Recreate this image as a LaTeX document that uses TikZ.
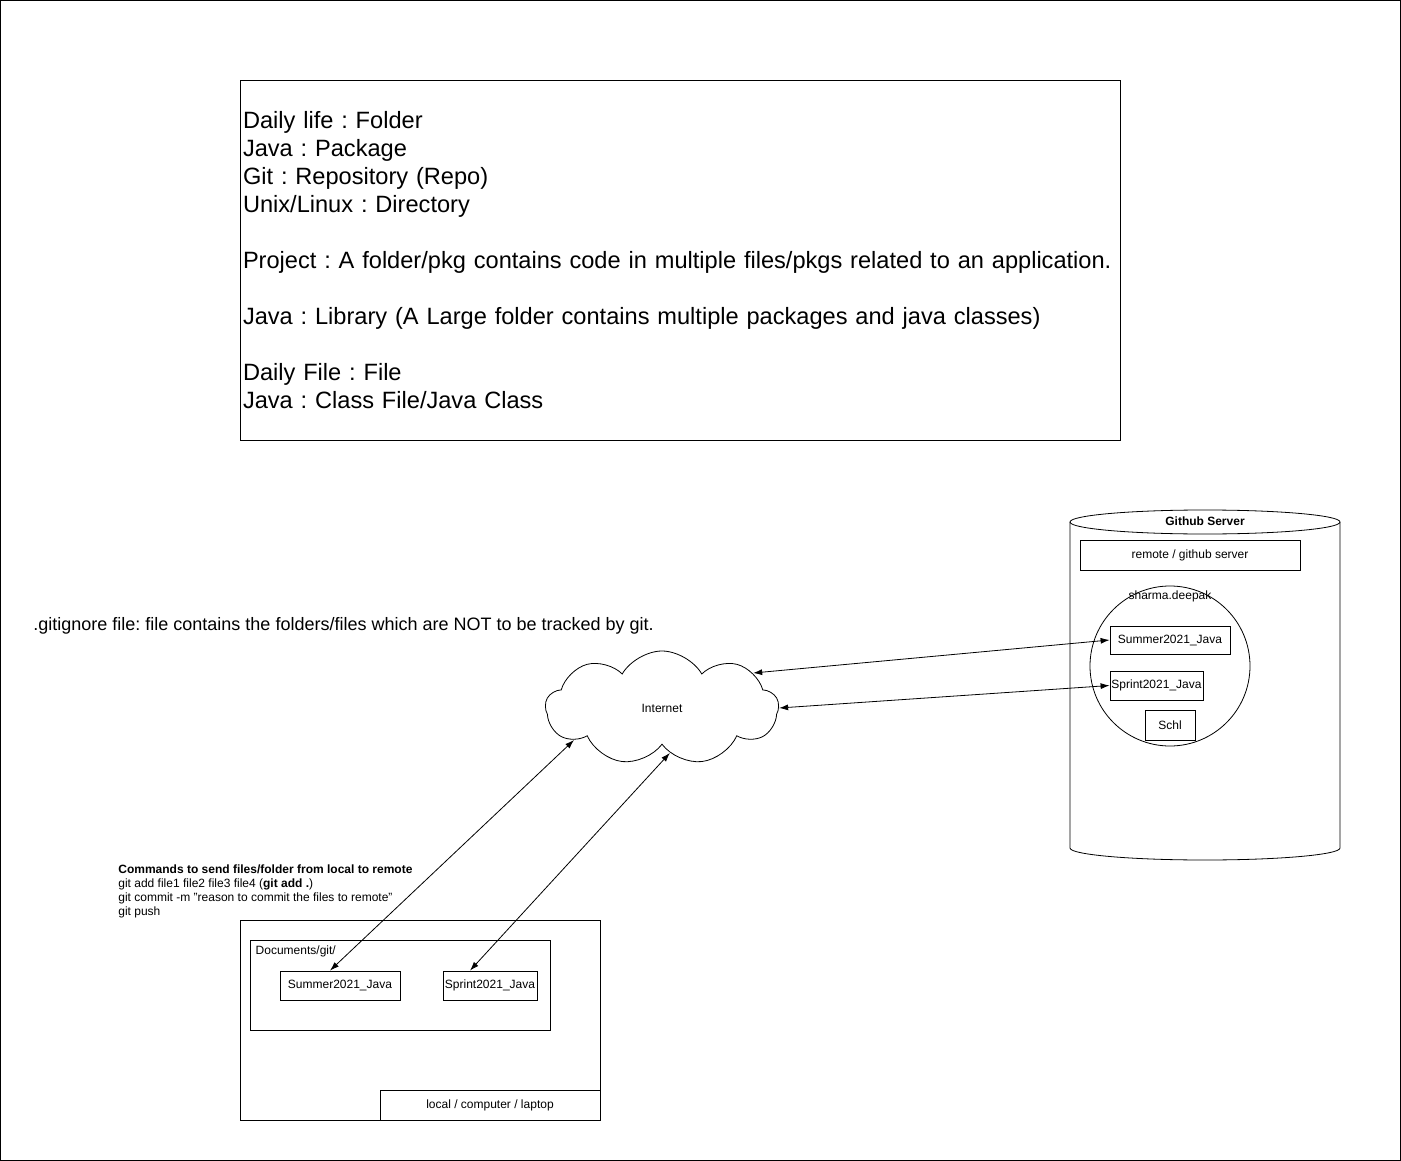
\documentclass[tikz,border=0pt]{standalone}
\usepackage{fontspec}
\setmainfont{Liberation Sans}
\usetikzlibrary{shapes.symbols,arrows.meta}
\tikzset{box/.style = {shape=rectangle,draw,inner sep=1pt}}
\tikzset{link/.style = {{Latex[length=9pt,width=6pt]}-{Latex[length=9pt,width=6pt]}}}
\frenchspacing
\hyphenpenalty=10000

\begin{document}
\begin{tikzpicture}[x=1pt,y=-1pt,line width=0.8pt,font=\fontsize{12}{14}\selectfont]
  \useasboundingbox (0,0) rectangle (1401,1161);
  \draw (0.5,0.5) rectangle (1400.5,1160.5);

  % notes
  \node[draw, text width=874, align=left, minimum height=360, inner xsep=3pt,
        font=\fontsize{23.6}{28}\selectfont] (notes) at (680,260) {Daily life : Folder\\
    Java : Package\\
    Git : Repository (Repo)\\
    Unix/Linux : Directory\\[28pt]
    Project : A folder/pkg contains code in multiple files/pkgs related to an application.\\[28pt]
    Java : Library (A Large folder contains multiple packages and java classes)\\[28pt]
    Daily File : File\\
    Java : Class File/Java Class};

  \node[anchor=west, inner sep=0, font=\fontsize{18}{21}\selectfont] (ignore) at (33,626)
    {.gitignore file: file contains the folders/files which are NOT to be tracked by git.};

  % github server
  \draw (1070,522) -- (1070,848) arc[start angle=180, end angle=0, x radius=135, y radius=12] -- (1340,522);
  \draw (1205,522) ellipse [x radius=135, y radius=12];
  \node[font=\fontsize{12}{14}\selectfont\bfseries] (server) at (1205,521) {Github Server};
  \node[box, minimum width=220, minimum height=30] (remote) at (1190,555) {remote / github server};
  \node[circle, draw, minimum size=160] (account) at (1170,666) {};
  \node (user) at (1170,596) {sharma.deepak};
  \node[box, minimum width=120, minimum height=28] (rsum) at (1170,640) {Summer2021\_Java};
  \node[box, minimum width=93, minimum height=29] (rspr) at (1156.5,685.5) {Sprint2021\_Java};
  \node[box, minimum width=50, minimum height=30] (schl) at (1170,725) {Schl};

  % internet
  \node[cloud, draw, cloud puffs=9, cloud puff arc=120, aspect=2,
        minimum width=233, minimum height=114] (inet) at (662,708) {Internet};

  % local
  \node[anchor=north west, align=left, inner sep=0] (cmds) at (118,864)
    {\textbf{Commands to send files/folder from local to remote}\\
     git add file1 file2 file3 file4 (\textbf{git add .})\\
     git commit -m "reason to commit the files to remote"\\
     git push};
  \node[box, minimum width=360, minimum height=200] (local) at (420,1020) {};
  \node[box, minimum width=300, minimum height=90] (docs) at (400,985) {};
  \node[anchor=west] (docname) at (252,951) {Documents/git/};
  \node[box, minimum width=120, minimum height=29] (lsum) at (340,985.5) {Summer2021\_Java};
  \node[box, minimum width=94, minimum height=29] (lspr) at (490,985.5) {Sprint2021\_Java};
  \node[box, minimum width=220, minimum height=30] (laptop) at (490,1105) {local / computer / laptop};

  \draw[link] ([xshift=-10pt]lsum.north) -- (inet.200);
  \draw[link] ([xshift=-20pt]lspr.north) -- (inet.280);
  \draw[link] (inet.21) -- (rsum.west);
  \draw[link] (inet.0) -- (rspr.west);
\end{tikzpicture}
\end{document}
